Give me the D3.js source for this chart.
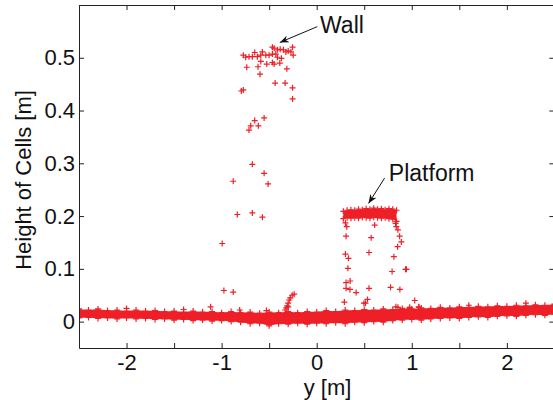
<!DOCTYPE html>
<html>
<head>
<meta charset="utf-8">
<script src="https://cdn.jsdelivr.net/npm/d3@7"></script>
<style>
  body { margin: 0; background: #fff; }
  svg { display: block; font-family: "Liberation Sans", Arial, sans-serif; }
</style>
</head>
<body>
<div id="chart"></div>
<script>
// ground band (edges of the dense strip near 0)
const groundX = [-2.5, -2.4, -2.3, -2.2, -2.1, -2.0, -1.9, -1.8, -1.7, -1.6, -1.5, -1.4, -1.3, -1.2, -1.1, -1.0,
  -0.9, -0.8, -0.7, -0.6, -0.5, -0.4, -0.3, -0.2, -0.1, 0.0, 0.1, 0.2, 0.3, 0.4, 0.5, 0.6, 0.7, 0.8, 0.9, 1.0,
  1.1, 1.2, 1.3, 1.4, 1.5, 1.6, 1.7, 1.8, 1.9, 2.0, 2.1, 2.2, 2.3, 2.4, 2.5];
const groundTop = [0.024, 0.022, 0.024, 0.021, 0.022, 0.020, 0.022, 0.020, 0.021, 0.019, 0.020, 0.018, 0.020, 0.018, 0.019, 0.017,
  0.019, 0.017, 0.018, 0.016, 0.018, 0.017, 0.019, 0.017, 0.019, 0.018, 0.021, 0.019, 0.022, 0.021, 0.023, 0.022, 0.024, 0.023, 0.025, 0.024,
  0.026, 0.025, 0.027, 0.026, 0.028, 0.027, 0.029, 0.028, 0.030, 0.029, 0.031, 0.030, 0.032, 0.031, 0.033];
const groundBottom = [0.007, 0.008, 0.006, 0.007, 0.005, 0.007, 0.005, 0.006, 0.004, 0.005, 0.003, 0.004, 0.002, 0.003, 0.001, 0.002,
  0.000, -0.001, -0.004, -0.003, -0.008, -0.004, -0.005, -0.003, -0.005, -0.003, -0.004, -0.002, -0.004, -0.001, -0.002, 0.000, -0.001, 0.002, 0.003, 0.004,
  0.003, 0.005, 0.006, 0.007, 0.006, 0.008, 0.009, 0.008, 0.010, 0.011, 0.010, 0.012, 0.013, 0.012, 0.014];

// platform top (dense cap)
const platX = [0.28, 0.32, 0.36, 0.40, 0.44, 0.48, 0.52, 0.56, 0.60, 0.64, 0.68, 0.72, 0.76, 0.80, 0.84];
const platTop = [0.209, 0.211, 0.212, 0.211, 0.213, 0.212, 0.214, 0.213, 0.215, 0.213, 0.214, 0.212, 0.214, 0.213, 0.211];
const platBottom = [0.195, 0.197, 0.196, 0.197, 0.196, 0.198, 0.197, 0.196, 0.198, 0.197, 0.196, 0.197, 0.195, 0.194, 0.190];

// scattered cells: wall
const wallX = [-0.466, -0.448, -0.413, -0.384, -0.350, -0.324, -0.300, -0.271, -0.254, -0.247, -0.571, -0.652, -0.772, -0.747,
  -0.712, -0.677, -0.624, -0.588, -0.535, -0.501, -0.466, -0.430, -0.413, -0.371, -0.588, -0.466, -0.525, -0.448, -0.388,
  -0.736, -0.617, -0.314, -0.596, -0.437, -0.332, -0.254, -0.254, -0.793, -0.772, -0.553, -0.652, -0.694, -0.614, -0.712,
  -0.677, -0.553, -0.878, -0.511, -0.835, -0.677, -0.571, -0.994, -0.976, -0.878,
  -0.332, -0.320, -0.310, -0.300, -0.289, -0.278, -0.258, -0.237, -0.300];
const wallY = [0.520, 0.518, 0.515, 0.516, 0.515, 0.511, 0.513, 0.511, 0.520, 0.505, 0.511, 0.510, 0.505, 0.501,
  0.502, 0.502, 0.502, 0.505, 0.505, 0.505, 0.507, 0.507, 0.501, 0.499, 0.493, 0.491, 0.488, 0.488, 0.490,
  0.482, 0.483, 0.479, 0.469, 0.452, 0.452, 0.443, 0.422, 0.437, 0.439, 0.386, 0.381, 0.371, 0.371, 0.363,
  0.298, 0.281, 0.266, 0.261, 0.203, 0.206, 0.198, 0.148, 0.059, 0.056,
  0.022, 0.026, 0.030, 0.035, 0.041, 0.045, 0.050, 0.052, 0.028];

// scattered cells: platform sides
const platPtsX = [0.610, 0.830, 0.837, 0.854, 0.872, 0.890, 0.851, 0.316, 0.302, 0.309, 0.573, 0.550, 0.302, 0.334,
  0.812, 0.328, 0.793, 0.943, 0.935, 0.309, 0.352, 0.309, 0.350, 0.415, 0.550, 0.777, 0.875, 0.291, 0.534,
  0.497, 0.513, 1.031, 0.854, 0.978, 1.076];
const platPtsY = [0.183, 0.186, 0.180, 0.174, 0.162, 0.151, 0.142, 0.180, 0.187, 0.162, 0.159, 0.131, 0.128, 0.120,
  0.123, 0.101, 0.095, 0.099, 0.099, 0.074, 0.077, 0.063, 0.061, 0.055, 0.063, 0.065, 0.061, 0.037, 0.042,
  0.035, 0.035, 0.040, 0.027, 0.027, 0.027];

// cells just above the ground strip
const strayX = [-1.116, -0.81, -0.529, 0.833, 0.975, 1.073, -2.0, -1.4, 1.6, 2.2];
const strayY = [0.028, 0.022, 0.021, 0.028, 0.025, 0.028, 0.025, 0.023, 0.031, 0.035];

const xTicks = [-2.5, -2, -1.5, -1, -0.5, 0, 0.5, 1, 1.5, 2, 2.5];
const yTicks = [0, 0.1, 0.2, 0.3, 0.4, 0.5];

const red = "#ee1f26";
const width = 553, height = 400;

const svg = d3.select("#chart").append("svg")
  .attr("width", width)
  .attr("height", height);

const x = d3.scaleLinear().domain([-2.5, 2.5]).range([79, 554.4]);
const y = d3.scaleLinear().domain([-0.05, 0.6]).range([348, 5]);

svg.append("clipPath").attr("id", "clip")
  .append("rect").attr("x", 79).attr("y", 5).attr("width", 476).attr("height", 343);

const plot = svg.append("g").attr("clip-path", "url(#clip)");

function plusPath(s) {
  return "M" + (-s) + ",0H" + s + "M0," + (-s) + "V" + s;
}

// ground strip
const groundArea = d3.area()
  .x((d, i) => x(groundX[i]))
  .y0((d, i) => y(groundBottom[i]))
  .y1((d, i) => y(groundTop[i]));
plot.append("path")
  .datum(groundX)
  .attr("d", groundArea)
  .attr("fill", red);

const edgePts = groundX.map((g, i) => [g, groundTop[i]]).concat(groundX.map((g, i) => [g, groundBottom[i]]));
plot.selectAll(".edge")
  .data(edgePts)
  .enter().append("path")
  .attr("class", "edge")
  .attr("transform", d => "translate(" + x(d[0]) + "," + y(d[1]) + ")")
  .attr("d", plusPath(3))
  .attr("stroke", red)
  .attr("stroke-width", 1.2)
  .attr("fill", "none");

// platform cap
const platArea = d3.area()
  .x((d, i) => x(platX[i]))
  .y0((d, i) => y(platBottom[i]))
  .y1((d, i) => y(platTop[i]));
plot.append("path")
  .datum(platX)
  .attr("d", platArea)
  .attr("fill", red);

const capPts = platX.map((p, i) => [p, platTop[i]]).concat(platX.map((p, i) => [p, platBottom[i]]));
plot.selectAll(".cap")
  .data(capPts)
  .enter().append("path")
  .attr("class", "cap")
  .attr("transform", d => "translate(" + x(d[0]) + "," + y(d[1]) + ")")
  .attr("d", plusPath(3))
  .attr("stroke", red)
  .attr("stroke-width", 1.2)
  .attr("fill", "none");

// scattered cells
const scatter = wallX.map((v, i) => [v, wallY[i]])
  .concat(platPtsX.map((v, i) => [v, platPtsY[i]]))
  .concat(strayX.map((v, i) => [v, strayY[i]]));
plot.selectAll(".cell")
  .data(scatter)
  .enter().append("path")
  .attr("class", "cell")
  .attr("transform", d => "translate(" + x(d[0]) + "," + y(d[1]) + ")")
  .attr("d", plusPath(3))
  .attr("stroke", red)
  .attr("stroke-width", 1.2)
  .attr("fill", "none");

// axes
const fmtX = d => Number.isInteger(d) ? (d < 0 ? "-" + Math.abs(d) : d) : "";
svg.append("g")
  .attr("transform", "translate(0,348)")
  .call(d3.axisBottom(x).tickValues(xTicks).tickFormat(fmtX).tickSizeInner(-5).tickSizeOuter(0).tickPadding(6));
svg.append("g")
  .attr("transform", "translate(0,5)")
  .call(d3.axisTop(x).tickValues(xTicks).tickFormat("").tickSizeInner(-5).tickSizeOuter(0));
svg.append("g")
  .attr("transform", "translate(79,0)")
  .call(d3.axisLeft(y).tickValues(yTicks).tickFormat(d => d === 0 ? "0" : d3.format(".1f")(d)).tickSizeInner(-5).tickSizeOuter(0).tickPadding(4));
svg.append("g")
  .attr("transform", "translate(554.4,0)")
  .call(d3.axisRight(y).tickValues(yTicks).tickFormat("").tickSizeInner(-5).tickSizeOuter(0));

svg.selectAll(".domain").attr("stroke", "#222");
svg.selectAll(".tick line").attr("stroke", "#222");
svg.selectAll(".tick text").attr("font-size", 22).attr("fill", "#111").attr("font-family", "Liberation Sans, Arial, sans-serif");

// axis titles
svg.append("text")
  .attr("x", 327.5).attr("y", 394.5)
  .attr("text-anchor", "middle")
  .attr("font-size", 22)
  .attr("fill", "#111")
  .text("y [m]");
svg.append("text")
  .attr("transform", "translate(31,180) rotate(-90)")
  .attr("text-anchor", "middle")
  .attr("font-size", 22)
  .attr("fill", "#111")
  .text("Height of Cells [m]");

// annotations
svg.append("defs").append("marker")
  .attr("id", "head")
  .attr("viewBox", "0 0 10 10")
  .attr("refX", 10).attr("refY", 5)
  .attr("markerWidth", 9).attr("markerHeight", 9)
  .attr("markerUnits", "userSpaceOnUse")
  .attr("orient", "auto")
  .append("path")
  .attr("d", "M0,1L10,5L0,9L3,5Z")
  .attr("fill", "#111");

const notes = [
  { label: "Wall", tx: 0.035, ty: 0.546, ax: 0.006, ay: 0.559, hx: -0.388, hy: 0.529 },
  { label: "Platform", tx: 0.759, ty: 0.266, ax: 0.714, ay: 0.272, hx: 0.545, hy: 0.224 }
];
notes.forEach(n => {
  svg.append("line")
    .attr("x1", x(n.ax)).attr("y1", y(n.ay))
    .attr("x2", x(n.hx)).attr("y2", y(n.hy))
    .attr("stroke", "#111")
    .attr("stroke-width", 1)
    .attr("marker-end", "url(#head)");
  svg.append("text")
    .attr("x", x(n.tx)).attr("y", y(n.ty))
    .attr("font-size", 23)
    .attr("fill", "#111")
    .text(n.label);
});
</script>
</body>
</html>
